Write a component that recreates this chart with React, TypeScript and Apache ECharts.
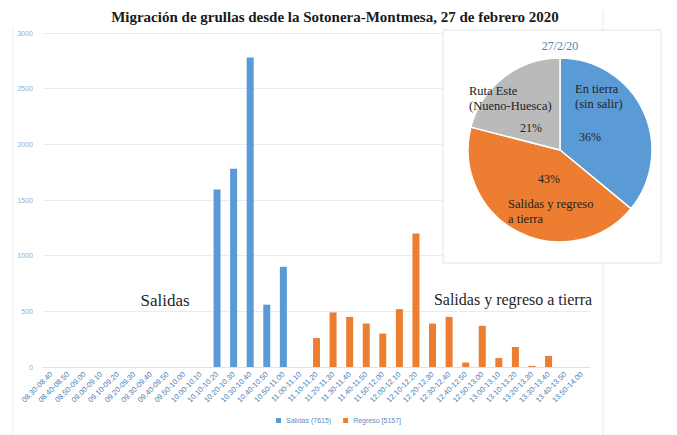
import React, { useEffect, useRef } from "react";
import * as echarts from "echarts";

const categories = [
  "08.30-08.40", "08.40-08.50", "08.50-09.00", "09.00-09.10", "09.10-09.20",
  "09.20-09.30", "09.30-09.40", "09.40-09.50", "09.50-10.00", "10.00-10.10",
  "10.10-10.20", "10.20-10.30", "10.30-10.40", "10.40-10.50", "10.50-11.00",
  "11.00-11.10", "11.10-11.20", "11.20-11.30", "11.30-11.40", "11.40-11.50",
  "11.50-12.00", "12.00-12.10", "12.10-12.20", "12.20-12.30", "12.30-12.40",
  "12.40-12.50", "12.50-13.00", "13.00-13.10", "13.10-13.20", "13.20-13.30",
  "13.30-13.40", "13.40-13.50", "13.50-14.00",
];

const salidas = [
  0, 0, 0, 0, 0, 0, 0, 0, 0, 0,
  1595, 1780, 2780, 560, 900,
  0, 0, 0, 0, 0, 0, 0, 0, 0, 0, 0, 0, 0, 0, 0, 0, 0, 0,
];

const regreso = [
  0, 0, 0, 0, 0, 0, 0, 0, 0, 0, 0, 0, 0, 0, 0, 0,
  260, 490, 450, 390, 300, 520, 1200, 390, 450, 40, 370, 80, 180, 10, 100,
  0, 0,
];

const seriesNames = ["Salidas (7615)", "Regreso [5157]"];

const pieNames = ["En tierra\n(sin salir)", "Salidas y regreso\na tierra", "Ruta Este\n(Nueno-Huesca)"];
const pieValues = [36, 43, 21];
const pieTitle = "27/2/20";

const title = "Migración de grullas desde la Sotonera-Montmesa, 27 de febrero 2020";
const noteLeft = "Salidas";
const noteRight = "Salidas y regreso a tierra";

const BLUE = "#5b9bd5";
const ORANGE = "#ed7d31";
const GRAY = "#bababa";
const SERIF = "Liberation Serif";

export default function App() {
  const ref = useRef<HTMLDivElement>(null);
  useEffect(() => {
    document.body.style.margin = "0";
    const chart = echarts.init(ref.current!, undefined, { renderer: "svg" });
    const pctPos = [
      [590, 137],
      [549, 179],
      [531, 128],
    ];
    const namePos = [
      [575, 96],
      [508, 211],
      [469, 98],
    ];
    const colors = [BLUE, ORANGE, GRAY];
    chart.setOption({
      animation: false,
      backgroundColor: "#ffffff",
      title: {
        text: title,
        left: 330,
        top: 4,
        textAlign: "center",
        textStyle: { fontFamily: SERIF, fontSize: 15, fontWeight: "bold", color: "#1a1a1a" },
      },
      legend: {
        bottom: 6,
        left: "center",
        itemWidth: 5,
        itemHeight: 5,
        itemGap: 12,
        icon: "rect",
        textStyle: { fontSize: 7, color: "#5b8fc0" },
        data: seriesNames,
      },
      grid: { left: 43, right: 87, top: 33, bottom: 68, containLabel: false },
      xAxis: {
        type: "category",
        data: categories,
        axisLine: { show: true, lineStyle: { color: "#d6e4f0" } },
        axisTick: { show: false },
        axisLabel: { rotate: 45, fontSize: 7.5, color: "#4a7fb5", interval: 0, margin: 6 },
      },
      yAxis: {
        type: "value",
        min: 0,
        max: 3000,
        interval: 500,
        axisLine: { show: false },
        axisTick: { show: false },
        axisLabel: { fontSize: 7, color: "#8fb0d0", margin: 10, formatter: (v: number) => String(v) },
        splitLine: { lineStyle: { color: "#e3edf6", width: 1 } },
      },
      graphic: [
        { type: "line", z: -1, shape: { x1: 13, y1: 28, x2: 13, y2: 435 }, style: { stroke: "#e8eff6", lineWidth: 1 } },
        { type: "line", z: -1, shape: { x1: 603, y1: 10, x2: 603, y2: 435 }, style: { stroke: "#e3ebf3", lineWidth: 1 } },
        {
          type: "rect",
          z: 1,
          shape: { x: 443, y: 30, width: 218, height: 233 },
          style: { fill: "#ffffff", stroke: "#dbe6f0", lineWidth: 1 },
        },
        {
          type: "text",
          z: 3,
          x: 560,
          y: 46,
          style: { text: pieTitle, fill: "#5a7fa8", fontFamily: SERIF, fontSize: 12, align: "center", verticalAlign: "middle" },
        },
        {
          type: "text",
          z: 3,
          x: 165,
          y: 300,
          style: { text: noteLeft, fill: "#1f1f1f", fontFamily: SERIF, fontSize: 17, align: "center", verticalAlign: "middle" },
        },
        {
          type: "text",
          z: 3,
          x: 513,
          y: 299,
          style: { text: noteRight, fill: "#1f1f1f", fontFamily: SERIF, fontSize: 16, align: "center", verticalAlign: "middle" },
        },
      ],
      series: [
        {
          name: seriesNames[0],
          type: "bar",
          data: salidas,
          barWidth: 7,
          barGap: "-100%",
          itemStyle: { color: BLUE },
        },
        {
          name: seriesNames[1],
          type: "bar",
          data: regreso,
          barWidth: 7,
          barGap: "-100%",
          itemStyle: { color: ORANGE },
        },
        {
          type: "pie",
          z: 5,
          center: [560, 150],
          radius: 92,
          startAngle: 90,
          clockwise: true,
          silent: true,
          itemStyle: { borderColor: "#ffffff", borderWidth: 1.5 },
          data: pieNames.map((n, i) => ({ name: n, value: pieValues[i], itemStyle: { color: colors[i] } })),
          label: {
            show: true,
            position: "inside",
            formatter: "{d}%",
            fontFamily: SERIF,
            fontSize: 12,
            color: "#222222",
          },
          labelLine: { show: false },
          labelLayout: (p: any) => ({
            x: pctPos[p.dataIndex][0],
            y: pctPos[p.dataIndex][1],
            align: "center",
            verticalAlign: "middle",
          }),
        },
        {
          type: "pie",
          z: 6,
          center: [560, 150],
          radius: 92,
          startAngle: 90,
          clockwise: true,
          silent: true,
          itemStyle: { color: "rgba(0,0,0,0)", borderWidth: 0 },
          data: pieNames.map((n, i) => ({ name: n, value: pieValues[i] })),
          label: {
            show: true,
            position: "inside",
            formatter: "{b}",
            fontFamily: SERIF,
            fontSize: 12.5,
            lineHeight: 15,
            color: "#222222",
            align: "left",
          },
          labelLine: { show: false },
          labelLayout: (p: any) => ({
            x: namePos[p.dataIndex][0],
            y: namePos[p.dataIndex][1],
            align: "left",
            verticalAlign: "middle",
          }),
        },
      ],
    });
    return () => chart.dispose();
  }, []);
  return <div ref={ref} style={{ width: 677, height: 435 }} />;
}
